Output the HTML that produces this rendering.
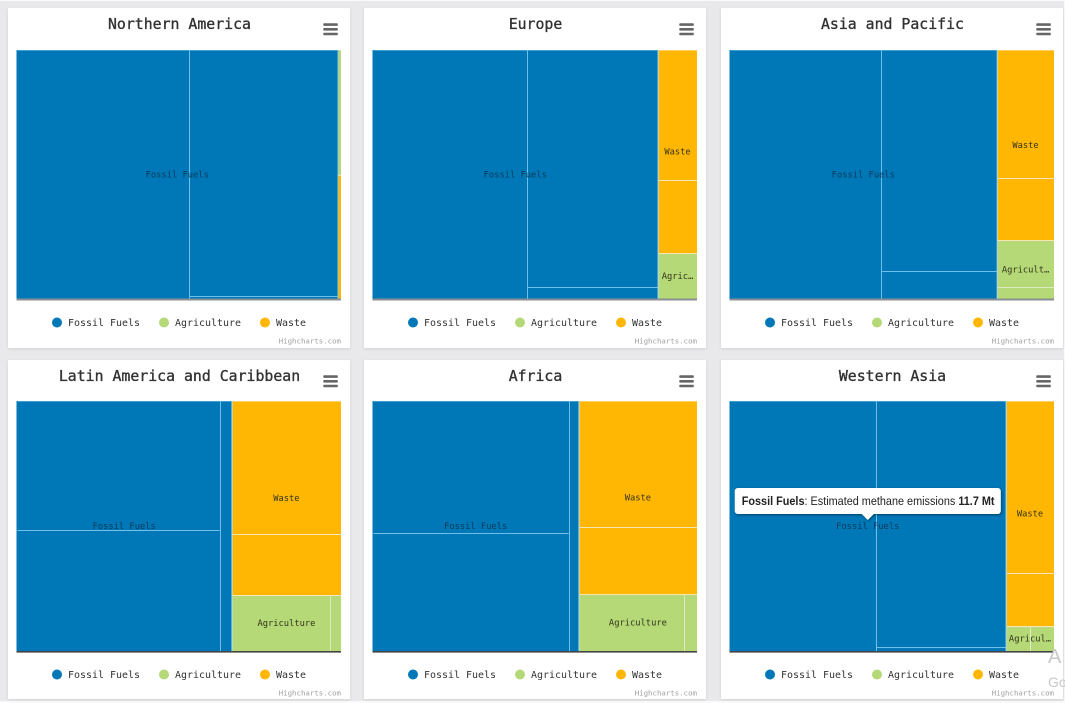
<!DOCTYPE html>
<html lang="en">
<head>
<meta charset="utf-8">
<title>Estimated methane emissions by region</title>
<style>
  html, body { margin: 0; padding: 0; width: 1065px; height: 703px; overflow: hidden; background: #e9e9eb; }
  #stage { position: relative; width: 1065px; height: 703px; }
  .card { position: absolute; background: #fff; box-shadow: 0 1px 3px rgba(0,0,0,.10); }
  .edge { position: absolute; background: #fafafa; }
  #charts { position: absolute; left: 0; top: 0; }
  text { font-family: "DejaVu Sans Mono", "Liberation Mono", monospace; }
</style>
</head>
<body>
<div id="stage">
  <div class="edge" style="left:0;top:0;width:1065px;height:1px"></div>
  <div class="edge" style="left:0;top:701px;width:1065px;height:2px"></div>
  <div class="edge" style="left:1064px;top:0;width:1px;height:703px"></div>
  <svg id="charts" width="1065" height="703" viewBox="0 0 1065 703" xmlns="http://www.w3.org/2000/svg">
    <defs>
      <filter id="tipShadow" x="-5%" y="-20%" width="110%" height="150%">
        <feDropShadow dx="1" dy="1" stdDeviation="1.4" flood-color="#000" flood-opacity="0.45"/>
      </filter>
    </defs>
  </svg>
</div>
<script>
// ---- chart data (Mt; each group = columns of cells) ----
const regions = ["Northern America", "Europe", "Asia and Pacific", "Latin America and Caribbean", "Africa", "Western Asia"];
const fossilFuels = [
  [[17.25], [14.67, 0.18]],
  [[15.45], [12.47, 0.63]],
  [[15.2], [10.3, 1.3]],
  [[10.47, 9.83], [1.2]],
  [[10.35, 9.25], [1.0]],
  [[6.21], [5.40, 0.09]]
];
const agriculture = [
  [[0.15]],
  [[0.72]],
  [[1.08, 0.27]],
  [[2.19], [0.25]],
  [[2.39], [0.30]],
  [[0.10], [0.10]]
];
const waste = [
  [[0.15]],
  [[2.04, 1.14]],
  [[2.93, 1.42]],
  [[5.80, 2.66]],
  [[5.95, 3.16]],
  [[1.40, 0.43]]
];
const agricultureOnTop = [true, false, false, false, false, false];
const legendNames = ["Fossil Fuels", "Agriculture", "Waste"];
const tooltipRegion = "Western Asia";

// ---- styling and layout ----
const NS = "http://www.w3.org/2000/svg";
const svg = document.getElementById("charts");
const stage = document.getElementById("stage");
const COLORS = { "Fossil Fuels": "#0077b6", "Agriculture": "#b5d977", "Waste": "#ffb703" };
const BORDERS = { "Fossil Fuels": "#6fc0e6", "Agriculture": "#dcebc0", "Waste": "#f6e6b6" };
const CHAR_W = 5.25;

function make(tag, attrs, parent, text) {
  const el = document.createElementNS(NS, tag);
  for (const k in attrs) el.setAttribute(k, attrs[k]);
  if (text !== undefined) el.textContent = text;
  parent.appendChild(el);
  return el;
}
function sum(a) { return a.reduce((s, v) => s + (Array.isArray(v) ? sum(v) : v), 0); }
function scale(total, start, length) { return v => start + (v / total) * length; }

function cardBox(i) {
  const col = i % 3, row = Math.floor(i / 3);
  const x = Math.floor(8 + col * 356.5);
  return { x: x, y: row === 0 ? 8 : 360, w: 342, h: row === 0 ? 340 : 339, row: row };
}

// draws one group: its columns of cells inside rectangle r; only inner edges get a light divider
function drawGroup(g, name, columns, r) {
  const bg = make("rect", { x: r.x, y: r.y, width: r.w, height: r.h, fill: COLORS[name] }, g);
  
  
  const xs = scale(sum(columns), r.x, r.w);
  let cx = 0;
  columns.forEach(cells => {
    const colSum = sum(cells);
    const x0 = xs(cx), x1 = xs(cx + colSum);
    const ys = scale(colSum, r.y, r.h);
    let cy = 0;
    cells.forEach(v => {
      const cell = make("rect", {
        x: x0, y: ys(cy), width: Math.max(x1 - x0, 0), height: Math.max(ys(cy + v) - ys(cy), 0),
        fill: COLORS[name]
      }, g);
      
      
      if (cy > 0) {
        const hLine = make("line", { x1: x0, x2: x1, y1: Math.round(ys(cy)) + 0.5, y2: Math.round(ys(cy)) + 0.5, stroke: BORDERS[name], "stroke-width": 1 }, g);
        
        
      }
      cy += v;
    });
    if (cx > 0) {
      const vLine = make("line", { x1: Math.round(x0) + 0.5, x2: Math.round(x0) + 0.5, y1: r.y, y2: r.y + r.h, stroke: BORDERS[name], "stroke-width": 1 }, g);
      
      
    }
    cx += colSum;
  });
  // group outline: top edge and right edge
  const topEdge = make("line", { x1: r.x, x2: r.x + r.w, y1: r.y + 0.5, y2: r.y + 0.5, stroke: BORDERS[name], "stroke-width": 1, opacity: 0.55 }, g);
  
  
  if (r.x > 0 && r.w > 6) {
    const leftEdge = make("line", { x1: r.x + 0.5, x2: r.x + 0.5, y1: r.y, y2: r.y + r.h, stroke: name === "Fossil Fuels" ? COLORS[name] : BORDERS[name], "stroke-width": 1, opacity: 0.8 }, g);
    
    
  }
}

function drawLabel(g, name, r) {
  const maxChars = Math.floor((r.w - 5) / CHAR_W);
  if (maxChars < 3) return;
  const txt = name.length <= maxChars ? name : name.slice(0, maxChars - 1) + "\u2026";
  const label = make("text", {
    x: r.x + r.w / 2, y: r.y + r.h / 2 + 3, "text-anchor": "middle",
    "font-size": 8.75, fill: name === "Fossil Fuels" ? "#0b3a58" : "#33331c"
  }, g, txt);
  
  
}

regions.forEach((region, i) => {
  const box = cardBox(i);

  const card = document.createElement("div");
  card.className = "card";
  card.style.cssText = `left:${box.x}px;top:${box.y}px;width:${box.w}px;height:${box.h}px`;
  
  
  stage.insertBefore(card, svg);

  const g = make("g", {}, svg);
  
  

  const title = make("text", {
    x: box.x + 171.5, y: box.y + 21, "text-anchor": "middle",
    "font-size": 14.85, fill: "#333", stroke: "#333", "stroke-width": 0.35
  }, g, region);
  
  

  // context menu icon
  const menu = make("g", {}, g);
  
  
  [15.5, 20.2, 24.9].forEach(dy => {
    const bar = make("rect", { x: box.x + 315.3, y: box.y + dy - 0.2, width: 14.5, height: 2.6, rx: 0.8, fill: "#666" }, menu);
    
    
  });

  // plot area
  const plot = { x: box.x + 8.5, y: box.row === 0 ? 50 : 401, w: 324.5, h: box.row === 0 ? 249 : 250 };
  const fossilSum = sum(fossilFuels[i]), agSum = sum(agriculture[i]), wasteSum = sum(waste[i]);
  const total = fossilSum + agSum + wasteSum;
  const xTop = scale(total, plot.x, plot.w);
  const xSplit = xTop(fossilSum);
  const fossilRect = { x: plot.x, y: plot.y, w: xSplit - plot.x, h: plot.h };
  const rightW = plot.x + plot.w - xSplit;
  const yRight = scale(agSum + wasteSum, plot.y, plot.h);
  const firstSum = agricultureOnTop[i] ? agSum : wasteSum;
  const yMid = yRight(firstSum);
  const topRect = { x: xSplit, y: plot.y, w: rightW, h: yMid - plot.y };
  const botRect = { x: xSplit, y: yMid, w: rightW, h: plot.y + plot.h - yMid };
  const agRect = agricultureOnTop[i] ? topRect : botRect;
  const wasteRect = agricultureOnTop[i] ? botRect : topRect;

  drawGroup(g, "Fossil Fuels", fossilFuels[i], fossilRect);
  drawGroup(g, "Waste", waste[i], wasteRect);
  drawGroup(g, "Agriculture", agriculture[i], agRect);

  // separator between the two stacked right-hand groups
  const stackLine = make("line", { x1: xSplit, x2: plot.x + plot.w, y1: Math.round(yMid) + 0.5, y2: Math.round(yMid) + 0.5, stroke: BORDERS["Waste"], "stroke-width": 1 }, g);
  
  

  // separator between fossil fuels and the right-hand groups
  const groupLine = make("line", { x1: xSplit, x2: xSplit, y1: plot.y, y2: plot.y + plot.h, stroke: "#8cc8e0", "stroke-width": 1 }, g);
  
  

  drawLabel(g, "Fossil Fuels", fossilRect);
  drawLabel(g, "Waste", wasteRect);
  drawLabel(g, "Agriculture", agRect);

  const axis = make("rect", {
    x: plot.x, y: plot.y + plot.h - (box.row === 0 ? 0.5 : 0), width: plot.w, height: box.row === 0 ? 2 : 1.6,
    fill: box.row === 0 ? "#8a8f94" : "#444"
  }, g);
  
  

  // legend
  const legendY = box.y + 314.5;
  const widths = legendNames.map(n => 11 + n.length * 6);
  const legendW = sum(widths) + 24 * (legendNames.length - 1) + 5;
  let lx = box.x + box.w / 2 - legendW / 2 + 5;
  legendNames.forEach((name, k) => {
    const item = make("g", {}, g);
    
    
    const dot = make("circle", { cx: lx, cy: legendY, r: 5, fill: COLORS[name] }, item);
    
    
    const t = make("text", { x: lx + 11, y: legendY + 3.5, "font-size": 9.97, fill: "#333" }, item, name);
    
    
    lx += widths[k] + 24;
  });

  const credit = make("text", {
    x: plot.x + plot.w, y: box.y + 335.5, "text-anchor": "end", "font-size": 7.4, fill: "#a0a0a0"
  }, g, "Highcharts.com");
  
  

  // tooltip
  if (region === tooltipRegion) {
    const cx = fossilRect.x + fossilRect.w / 2;
    const tipBottom = plot.y + plot.h / 2 - 12;
    const tip = make("g", {}, svg);
    
    
    const tx = cx - 133, ty = tipBottom - 26;
    const shape = make("path", {
      d: `M${tx + 3} ${ty}H${tx + 263}a3 3 0 0 1 3 3V${tipBottom - 3}a3 3 0 0 1 -3 3H${cx + 6}L${cx} ${tipBottom + 6}L${cx - 6} ${tipBottom}H${tx + 3}a3 3 0 0 1 -3 -3V${ty + 3}a3 3 0 0 1 3 -3Z`,
      fill: "#fff", filter: "url(#tipShadow)"
    }, tip);
    
    
    const tipText = make("text", { x: 0, y: 0, transform: `translate(${tx + 7} ${ty + 17}) scale(0.905 1)`, "font-size": 12, fill: "#222", style: "font-family:'Liberation Sans',Arial,sans-serif" }, tip);
    
    
    make("tspan", { "font-weight": "bold" }, tipText, "Fossil Fuels");
    make("tspan", {}, tipText, ": Estimated methane emissions ");
    make("tspan", { "font-weight": "bold" }, tipText, fossilSum.toFixed(1) + " Mt");
  }
});

// faint desktop watermark at the right edge
const wm1 = make("text", { x: 1048, y: 663, "font-size": 20, fill: "#c8c8c8", style: "font-family:'Liberation Sans',sans-serif" }, svg, "A");


const wm2 = make("text", { x: 1048, y: 687, "font-size": 14, fill: "#c8c8c8", style: "font-family:'Liberation Sans',sans-serif" }, svg, "Go");


</script>
</body>
</html>
